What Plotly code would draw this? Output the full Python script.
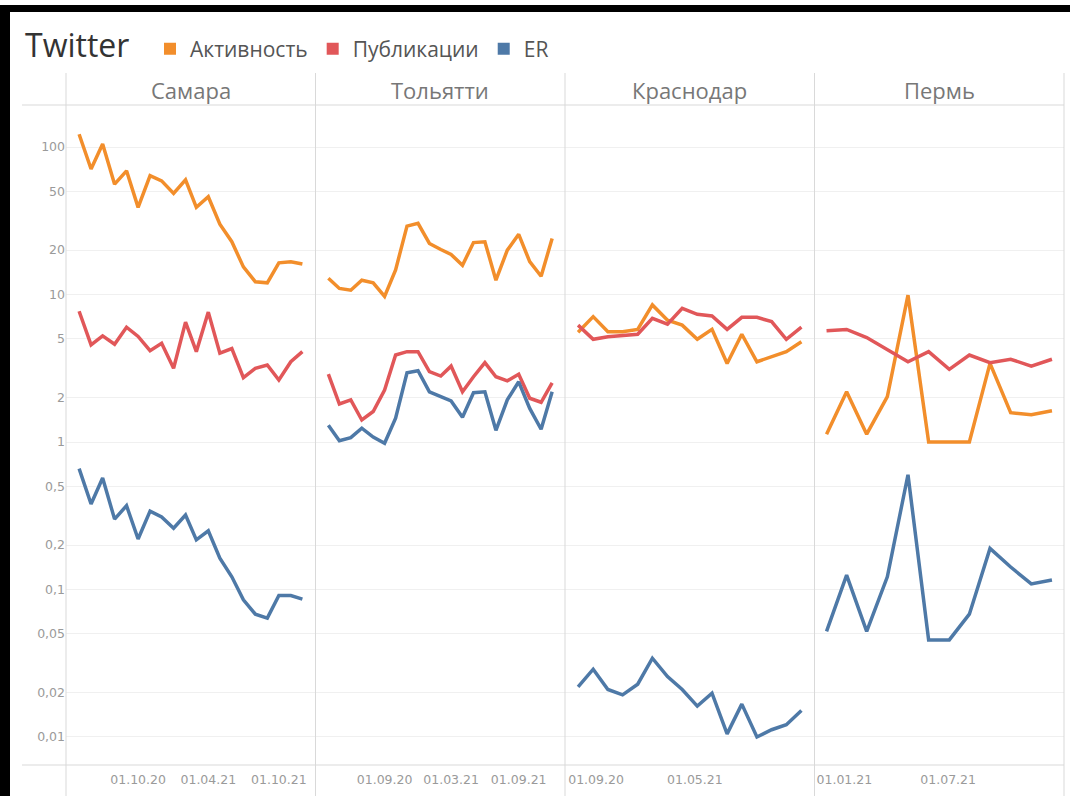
import plotly.graph_objects as go
from plotly.subplots import make_subplots

# ---------------- data ----------------
cities = ["Самара", "Тольятти", "Краснодар", "Пермь"]
series_names = ["Активность", "Публикации", "ER"]
colors = ["#F28E2B", "#E15759", "#4E79A7"]

samara_dates = ["2020-05-01", "2020-06-01", "2020-07-01", "2020-08-01", "2020-09-01",
                "2020-10-01", "2020-11-01", "2020-12-01", "2021-01-01", "2021-02-01",
                "2021-03-01", "2021-04-01", "2021-05-01", "2021-06-01", "2021-07-01",
                "2021-08-01", "2021-09-01", "2021-10-01", "2021-11-01", "2021-12-01"]
samara_activity = [122, 71, 105, 56, 69, 39, 64, 59, 48.5, 60,
                   39, 46, 30, 22.8, 15.4, 12.2, 12.0, 16.4, 16.7, 16.1]
samara_posts = [7.7, 4.55, 5.24, 4.6, 6.0, 5.2, 4.16, 4.67, 3.16, 6.5,
                4.1, 7.6, 4.0, 4.3, 2.73, 3.16, 3.33, 2.63, 3.5, 4.1]
samara_er = [0.66, 0.38, 0.57, 0.30, 0.37, 0.22, 0.34, 0.31, 0.26, 0.32,
             0.217, 0.25, 0.163, 0.122, 0.085, 0.068, 0.064, 0.091, 0.091, 0.086]

tolyatti_dates = ["2020-04-01", "2020-05-01", "2020-06-01", "2020-07-01", "2020-08-01",
                  "2020-09-01", "2020-10-01", "2020-11-01", "2020-12-01", "2021-01-01",
                  "2021-02-01", "2021-03-01", "2021-04-01", "2021-05-01", "2021-06-01",
                  "2021-07-01", "2021-08-01", "2021-09-01", "2021-10-01", "2021-11-01",
                  "2021-12-01"]
tolyatti_activity = [12.9, 11.0, 10.7, 12.5, 12.0, 9.7, 14.7, 29.1, 30.4, 22.2,
                     20.2, 18.7, 15.8, 22.5, 22.8, 12.5, 20.0, 25.6, 16.7, 13.3, 24.0]
tolyatti_posts = [2.89, 1.81, 1.93, 1.41, 1.61, 2.25, 3.89, 4.1, 4.1, 3.0,
                  2.8, 3.27, 2.19, 2.77, 3.45, 2.77, 2.6, 2.88, 1.98, 1.86, 2.52]
tolyatti_er = [1.30, 1.02, 1.07, 1.24, 1.08, 0.98, 1.45, 2.95, 3.04, 2.19,
               2.03, 1.90, 1.47, 2.16, 2.19, 1.20, 1.93, 2.56, 1.69, 1.22, 2.19]

krasnodar_dates = ["2020-07-19", "2020-08-25", "2020-09-30", "2020-11-05", "2020-12-12",
                   "2021-01-17", "2021-02-23", "2021-03-31", "2021-05-07", "2021-06-12",
                   "2021-07-19", "2021-08-24", "2021-09-30", "2021-11-05", "2021-12-11",
                   "2022-01-17"]
krasnodar_activity = [5.55, 7.08, 5.6, 5.6, 5.8, 8.5, 6.7, 6.2, 4.97, 5.8,
                      3.41, 5.38, 3.5, 3.78, 4.1, 4.78]
krasnodar_posts = [6.2, 4.97, 5.17, 5.3, 5.38, 6.9, 6.3, 8.05, 7.34, 7.15,
                   5.8, 7.0, 7.0, 6.55, 4.97, 6.0]
krasnodar_er = [0.0219, 0.0288, 0.0210, 0.0193, 0.0228, 0.0342, 0.0257, 0.0210, 0.0162, 0.0198,
                0.0105, 0.0167, 0.0100, 0.0112, 0.0121, 0.0151]

perm_dates = ["2020-12-01", "2021-01-05", "2021-02-09", "2021-03-17", "2021-04-22",
              "2021-05-28", "2021-07-03", "2021-08-07", "2021-09-12", "2021-10-18",
              "2021-11-23", "2021-12-29"]
perm_activity = [1.13, 2.19, 1.13, 2.03, 9.9, 1.0, 1.0, 1.0, 3.41, 1.58, 1.53, 1.63]
perm_posts = [5.69, 5.8, 5.11, 4.2, 3.5, 4.1, 3.11, 3.89, 3.45, 3.64, 3.27, 3.64]
perm_er = [0.052, 0.125, 0.052, 0.122, 0.60, 0.0455, 0.0455, 0.068, 0.19, 0.142, 0.109, 0.116]

y_tickvals = [0.01, 0.02, 0.05, 0.1, 0.2, 0.5, 1, 2, 5, 10, 20, 50, 100]
y_ticktext = ["0,01", "0,02", "0,05", "0,1", "0,2", "0,5", "1", "2", "5", "10", "20", "50", "100"]

samara_ticks = ["2020-10-01", "2021-04-01", "2021-10-01"]
samara_ticktext = ["01.10.20", "01.04.21", "01.10.21"]
tolyatti_ticks = ["2020-09-01", "2021-03-01", "2021-09-01"]
tolyatti_ticktext = ["01.09.20", "01.03.21", "01.09.21"]
krasnodar_ticks = ["2020-09-01", "2021-05-01"]
krasnodar_ticktext = ["01.09.20", "01.05.21"]
perm_ticks = ["2021-01-01", "2021-07-01"]
perm_ticktext = ["01.01.21", "01.07.21"]

panels = [
    (samara_dates, [samara_activity, samara_posts, samara_er], samara_ticks, samara_ticktext,
     ["2020-03-28", "2022-01-04"]),
    (tolyatti_dates, [tolyatti_activity, tolyatti_posts, tolyatti_er], tolyatti_ticks, tolyatti_ticktext,
     ["2020-02-26", "2022-01-05"]),
    (krasnodar_dates, [krasnodar_activity, krasnodar_posts, krasnodar_er], krasnodar_ticks, krasnodar_ticktext,
     ["2020-06-17", "2022-02-18"]),
    (perm_dates, [perm_activity, perm_posts, perm_er], perm_ticks, perm_ticktext,
     ["2020-11-10", "2022-01-19"]),
]

# ---------------- figure ----------------
W, H = 1070, 796
L, R, T, B = 66, 6, 105, 31
PW, PH = W - L - R, H - T - B


def px(x):
    return (x - L) / PW


def py(y):
    return (H - B - y) / PH


FONT = "Open Sans"
TICKFONT = dict(family="DejaVu Sans", size=12.5, color="#9a9a9a")
fig = make_subplots(rows=1, cols=4, shared_yaxes=True, horizontal_spacing=0)

for c, (dates, vals, ticks, ticktext, xr) in enumerate(panels):
    for s in range(3):
        fig.add_trace(go.Scatter(
            x=dates, y=vals[s], mode="lines", name=series_names[s],
            line=dict(color=colors[s], width=3.5), showlegend=False,
            hoverinfo="x+y"), row=1, col=c + 1)
    fig.update_xaxes(type="date", range=xr, tickvals=ticks, ticktext=ticktext,
                     showgrid=False, zeroline=False, showline=False, ticks="",
                     ticklabelstandoff=5, tickfont=TICKFONT, row=1, col=c + 1)

# legend entries as squares
for s in range(3):
    fig.add_trace(go.Scatter(x=[None], y=[None], mode="markers", name=series_names[s],
                             marker=dict(symbol="square", size=12, color=colors[s])))

fig.update_yaxes(type="log", range=[-2.19, 2.285], tickvals=y_tickvals, ticktext=y_ticktext,
                 showgrid=True, gridcolor="#f0f0f0", gridwidth=1, zeroline=False,
                 showline=False, ticks="", tickfont=TICKFONT)

shapes = []
line_col = "#d9d9d9"
# header and bottom horizontal rules
for yy in (T, H - B):
    shapes.append(dict(type="line", xref="paper", yref="paper", x0=px(22), x1=px(1064),
                       y0=py(yy), y1=py(yy), line=dict(color=line_col, width=1)))
# panel separators
for k in range(5):
    xx = L + PW * k / 4
    shapes.append(dict(type="line", xref="paper", yref="paper", x0=px(xx), x1=px(xx),
                       y0=py(73), y1=py(H), line=dict(color=line_col, width=1)))
# black frame on the screenshot
shapes.append(dict(type="rect", xref="paper", yref="paper", x0=px(0), x1=px(10),
                   y0=py(5), y1=py(H), fillcolor="black", line=dict(width=0)))
shapes.append(dict(type="rect", xref="paper", yref="paper", x0=px(0), x1=px(W),
                   y0=py(5), y1=py(12), fillcolor="black", line=dict(width=0)))

annotations = []
for k, name in enumerate(cities):
    annotations.append(dict(text=name, xref="paper", yref="paper", x=(k + 0.5) / 4,
                            y=py(90), xanchor="center", yanchor="middle", showarrow=False,
                            font=dict(family=FONT, size=22, color="#777777")))

fig.update_layout(
    width=W, height=H,
    margin=dict(l=L, r=R, t=T, b=B),
    paper_bgcolor="white", plot_bgcolor="white",
    title=dict(text="Twitter", xref="container", yref="container", x=25 / W, y=1 - 46 / H,
               xanchor="left", yanchor="middle",
               font=dict(family=FONT, size=32, color="#333333")),
    legend=dict(orientation="h", xref="container", yref="container", x=150 / W, y=1 - 49 / H,
                xanchor="left", yanchor="middle", font=dict(family=FONT, size=21, color="#555555"),
                itemwidth=30, bgcolor="rgba(0,0,0,0)"),
    shapes=shapes,
    annotations=annotations,
    showlegend=True,
)

fig.write_html("out.html", config={"displayModeBar": False},
               post_script="document.body.style.margin='0';document.body.style.overflow='hidden';")
